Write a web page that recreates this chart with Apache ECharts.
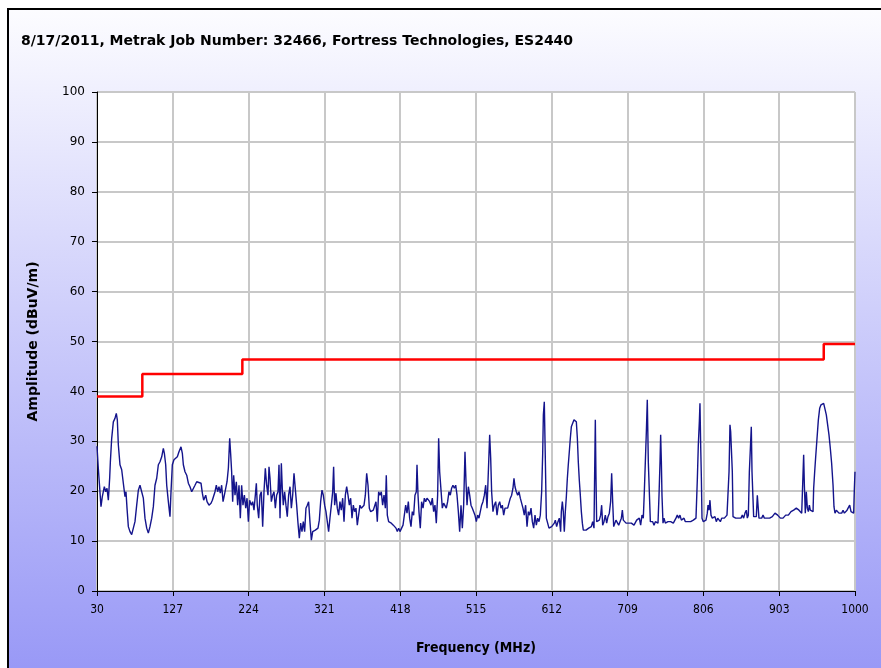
<!DOCTYPE html>
<html>
<head>
<meta charset="utf-8">
<script src="https://cdn.jsdelivr.net/npm/echarts@6/dist/echarts.min.js"></script>
<style>
  html, body { margin: 0; padding: 0; width: 881px; height: 668px; overflow: hidden; background: #fff; }
  .frame {
    position: absolute; left: 7px; top: 8px; width: 880px; height: 670px;
    border-left: 2px solid #000; border-top: 2px solid #000;
    background: linear-gradient(#fcfcff, #9797f6);
  }
  #chart { position: absolute; left: 0; top: 0; width: 881px; height: 668px; }
</style>
</head>
<body>
<div class="frame"></div>
<div id="chart"></div>
<script>
  var title = '8/17/2011, Metrak Job Number: 32466, Fortress Technologies, ES2440';
  var freqStart = 30;
  var freqEnd = 1000;
  var freqStep = 97;   // 30, 127, 224 ... 1000

  // limit line (MHz, dBuV/m)
  var limitLine = [
    [30, 39], [88, 39], [88, 43.5], [216, 43.5],
    [216, 46.4], [960, 46.4], [960, 49.5], [1000, 49.5]
  ];

  var emission = [
    [30, 29], [31.5, 25], [35.1, 16.9], [36.8, 18.9], [39.4, 20.9], [41.1, 19.9], [42.8, 20.6], [44.5, 18.2],
    [46.2, 22.6], [47.1, 25.9], [48.8, 30.6], [50.9, 33.9], [53.0, 34.6], [54.7, 35.6], [56.0, 34.3], [57.3, 29.3],
    [59.4, 25.3], [61.6, 24.3], [63.7, 21.6], [65.8, 18.9], [67.1, 19.9], [68.4, 16.6], [70.1, 12.9], [72.2, 11.9],
    [74.4, 11.3], [76.9, 11.3], [78.6, 13.9], [80.8, 17.2], [82.9, 20.2], [85.0, 21.2], [87.2, 21.2], [89.3, 18.6],
    [91.4, 14.6], [93.6, 12.6], [95.7, 11.6], [97.8, 12.9], [100.0, 14.6], [102.1, 16.9], [104.2, 21.2], [106.4, 22.6],
    [108.5, 25.3], [110.6, 25.9], [112.8, 26.9], [114.9, 28.6], [116.2, 27.6], [117.9, 25.3], [119.2, 21.2], [121.3, 17.9],
    [123.4, 14.9], [124.7, 19.9], [126.4, 25.3], [128.5, 26.3], [130.7, 26.6], [132.8, 26.9], [134.9, 27.9], [137.5, 28.9],
    [139.2, 27.6], [140.5, 25.3], [142.6, 23.9], [144.8, 23.2], [146.9, 21.6], [149.0, 20.9], [151.2, 19.9], [153.3, 20.2],
    [155.4, 21.2], [157.6, 21.9], [159.7, 21.8], [163.1, 21.6], [164.8, 19.6], [166.5, 18.2], [169.1, 19.2], [170.8, 17.9],
    [173.3, 17.2], [175.9, 17.6], [177.6, 18.2], [179.3, 18.6], [181.0, 19.9], [182.7, 21.2], [184.4, 19.9], [186.1, 20.9],
    [187.8, 19.6], [189.5, 21.2], [191.3, 17.9], [193.0, 19.2], [194.7, 18.9], [196.4, 21.9], [198.1, 24.6], [199.8, 30.6],
    [201.1, 27.3], [202.3, 23.9], [203.6, 17.9], [204.9, 23.2], [206.6, 19.2], [208.3, 21.9], [210.0, 17.2], [211.7, 21.2],
    [213.4, 14.6], [215.1, 21.2], [216.8, 17.2], [218.6, 19.2], [220.3, 16.6], [222.0, 18.6], [223.7, 13.9],
    [225.3, 18.2], [227.5, 17.2], [229.2, 17.9], [230.9, 16.2], [232.6, 19.2], [233.9, 21.6], [235.1, 17.2], [236.9, 14.6],
    [238.6, 19.2], [240.3, 19.9], [242.0, 12.9], [243.7, 19.9], [245.4, 24.6], [247.1, 21.2], [248.8, 19.2], [250.1, 24.9],
    [251.4, 22.6], [253.1, 17.9], [254.8, 19.2], [256.5, 19.9], [258.2, 16.6], [259.9, 19.2], [261.6, 19.9], [262.9, 25.3],
    [264.2, 14.6], [265.9, 25.6], [267.1, 20.6], [268.4, 17.2], [270.1, 19.9], [271.8, 17.2], [273.5, 14.9], [275.2, 19.2],
    [277.0, 20.9], [278.7, 16.6], [280.4, 19.2], [282.1, 23.6], [283.8, 23.2], [285.5, 17.2], [287.2, 13.6], [288.9, 10.6],
    [290.6, 13.6], [292.3, 11.9], [294.0, 13.9], [295.7, 11.9], [297.4, 16.6], [299.1, 17.2], [300.8, 17.9], [302.5, 13.9],
    [304.3, 10.2], [306.0, 11.9], [307.7, 11.9], [309.4, 12.2], [311.1, 11.9], [312.8, 12.6], [314.5, 14.2], [316.2, 17.9],
    [317.9, 20.2], [319.6, 19.2], [321.3, 17.2], [323.0, 15.9], [324.7, 13.9], [326.4, 11.9], [328.1, 14.6], [329.9, 17.2],
    [331.6, 19.9], [332.8, 24.9], [334.1, 17.2], [335.8, 19.6], [337.5, 16.6], [339.2, 15.2], [340.9, 17.9], [342.6, 16.2],
    [344.4, 18.6], [346.1, 13.9], [347.8, 19.2], [349.5, 20.9], [351.2, 19.2], [352.9, 17.2], [354.6, 18.6], [356.3, 14.6],
    [358.0, 17.2], [359.7, 15.9], [361.4, 16.6], [363.1, 13.2], [364.8, 15.2], [366.5, 17.2], [368.2, 16.6], [370.0, 16.9],
    [371.7, 17.2], [373.4, 19.2], [375.1, 23.6], [376.8, 21.2], [378.5, 16.6], [380.2, 15.9], [381.9, 16.2], [383.6, 16.2],
    [385.3, 15.9], [387.0, 17.9], [388.7, 13.9], [390.4, 19.9], [392.1, 19.2], [393.8, 19.9], [395.5, 17.2], [397.3, 19.2],
    [399.0, 16.6], [400.2, 23.2], [401.5, 15.2], [403.2, 13.9], [404.9, 13.6], [406.6, 13.6], [409.2, 13.2], [410.9, 13.2],
    [412.6, 12.6], [414.3, 11.9], [416.0, 12.6], [417.7, 11.9], [419.9, 11.9],
    [421.6, 13.2], [423.3, 15.2], [425.0, 17.2], [426.7, 15.6], [428.4, 17.9], [430.1, 14.6], [431.8, 12.9], [433.5, 15.9],
    [435.2, 15.2], [436.9, 19.2], [438.6, 19.9], [439.5, 25.3], [440.8, 19.2], [442.0, 15.9], [443.7, 12.6], [445.4, 17.9],
    [447.2, 16.6], [448.9, 18.6], [450.6, 17.9], [452.3, 18.6], [454.0, 18.2], [455.7, 17.9], [457.4, 17.2], [459.1, 18.6],
    [460.8, 15.9], [462.5, 17.2], [464.2, 13.6], [465.9, 19.2], [467.2, 30.6], [468.5, 23.9], [470.2, 23.6], [471.9, 16.6],
    [473.6, 17.6], [475.3, 17.2], [477.0, 16.6], [478.7, 17.9], [480.4, 19.9], [482.1, 19.2], [483.8, 20.6], [485.5, 21.2],
    [487.3, 20.6], [489.0, 21.2], [490.7, 19.2], [492.4, 15.9], [494.1, 11.9], [495.8, 17.2], [497.5, 12.6], [499.2, 17.2],
    [500.9, 27.9], [502.2, 21.9], [503.5, 17.2], [505.2, 20.9], [506.9, 19.2], [508.6, 17.2], [510.3, 16.6], [512.0, 15.9],
    [513.7, 15.2], [515.4, 13.9], [517.1, 15.2], [518.8, 14.6], [520.5, 15.9], [522.2, 17.2], [523.9, 17.9], [525.7, 19.2],
    [527.4, 21.2], [529.1, 16.6], [530.8, 23.9], [532.5, 31.3], [533.8, 26.6], [535.0, 19.9], [536.7, 15.9], [538.4, 17.2],
    [540.2, 17.9], [541.9, 15.2], [543.6, 17.2], [545.3, 17.9], [547.0, 16.6], [548.7, 17.2], [550.4, 15.2], [552.1, 16.6],
    [553.8, 16.2], [555.5, 16.6], [557.2, 16.9], [558.9, 18.6], [560.6, 19.2], [562.3, 20.6], [563.6, 22.6], [564.9, 20.9],
    [566.6, 19.9], [568.3, 19.2], [570.0, 19.9], [571.7, 18.6], [573.4, 17.6], [575.1, 16.6], [576.8, 15.2], [578.5, 17.2],
    [580.3, 12.9], [582.0, 15.9], [583.7, 15.2], [585.4, 16.6], [587.1, 13.9], [588.8, 12.6], [590.5, 15.2], [592.2, 13.2],
    [593.9, 14.6], [595.6, 13.9], [597.3, 15.2], [599.0, 19.9], [600.3, 27.3], [601.2, 35.3], [602.4, 37.9], [603.7, 26.6],
    [605.0, 14.6], [606.7, 13.6], [608.4, 12.6], [610.1, 12.2], [611.8, 12.9], [613.5, 12.6], [615.2, 13.6],
    [616.5, 14.2], [618.2, 12.9], [619.9, 13.9], [621.6, 14.6], [623.3, 11.9], [624.2, 15.9], [625.5, 17.9], [626.7, 15.9],
    [628.0, 11.9], [629.3, 15.9], [630.6, 18.9], [631.9, 22.6], [633.1, 25.3], [634.4, 27.9], [635.7, 30.6], [637.0, 32.9],
    [638.7, 33.6], [640.4, 34.3], [642.1, 34.7], [643.4, 33.9], [644.7, 30.6], [645.9, 25.9], [647.2, 22.2], [648.5, 19.2],
    [649.8, 15.9], [651.1, 13.6], [652.3, 12.2], [654.0, 11.9], [655.8, 12.2], [657.5, 11.9], [659.2, 12.6], [660.9, 12.2],
    [662.6, 12.9], [664.3, 13.9], [666.0, 12.6], [666.8, 23.2], [667.7, 34.3], [668.5, 23.2], [669.4, 13.9], [671.1, 13.6],
    [672.8, 14.2], [674.5, 15.2], [675.8, 17.2], [677.1, 13.2], [678.8, 13.9], [680.5, 15.2], [682.2, 13.6], [683.9, 14.9],
    [685.6, 15.6], [687.3, 17.9], [688.6, 23.6], [689.9, 17.9], [691.2, 12.9], [692.4, 13.2], [694.1, 14.2], [695.9, 14.6],
    [697.6, 13.2], [699.3, 13.6], [701.0, 14.6], [702.3, 16.2], [703.5, 14.2], [705.2, 13.9], [707.0, 13.6], [708.7, 13.2],
    [710.4, 13.6], [712.1, 13.9], [713.8, 13.6], [715.5, 13.2], [717.2, 13.2], [718.9, 13.6], [720.6, 14.2], [722.3, 13.9],
    [724.0, 14.6], [725.7, 13.2], [727.4, 15.2], [729.1, 14.6], [730.4, 19.9], [731.7, 25.9], [733.0, 31.9], [734.2, 38.3],
    [735.5, 25.9], [736.8, 19.9], [738.1, 13.9], [739.4, 13.6], [741.1, 13.9], [742.8, 13.2], [744.5, 13.9], [746.2, 13.6],
    [747.9, 13.6], [749.2, 19.2], [750.5, 25.9], [751.3, 31.3], [752.2, 25.9], [753.0, 19.2], [754.3, 13.6], [755.6, 14.6],
    [757.3, 13.6], [759.0, 13.9], [760.7, 13.9], [762.4, 13.6], [764.1, 13.9], [765.8, 14.2], [767.5, 13.6], [769.2, 13.9],
    [770.9, 14.6], [772.6, 15.2], [774.3, 14.6], [776.0, 15.2], [777.8, 14.2], [779.5, 13.9], [781.2, 14.6], [782.9, 13.9],
    [784.6, 14.2], [786.3, 13.9], [788.0, 14.2], [789.7, 13.9], [791.4, 13.6], [793.1, 14.2], [794.8, 14.6], [796.5, 14.6],
    [798.2, 22.2], [799.5, 29.3], [800.8, 33.9], [801.6, 37.6], [802.5, 29.3], [803.4, 22.6], [804.2, 14.6], [805.9, 13.9],
    [807.6, 14.2], [809.3, 14.2], [811.0, 15.6],
    [811.9, 17.2], [813.2, 16.2], [814.4, 18.2], [815.7, 15.2], [817.4, 14.6], [819.1, 14.2], [820.8, 14.9], [822.5, 13.9],
    [824.3, 14.6], [826.0, 14.2], [827.7, 13.9], [829.4, 14.6], [831.1, 14.2], [832.8, 14.6], [834.5, 14.9], [836.2, 15.2],
    [837.5, 15.2], [838.8, 23.9], [840.0, 33.3], [840.9, 31.9], [842.2, 31.9], [843.0, 23.9], [843.9, 14.9], [845.6, 14.6],
    [847.3, 14.6], [849.0, 14.9], [850.7, 14.6], [852.4, 14.2], [854.1, 14.6], [855.8, 15.2], [857.5, 14.6], [859.2, 15.6],
    [860.9, 16.2], [862.2, 14.6], [863.5, 15.2], [864.8, 23.9], [866.1, 23.9], [867.3, 32.9], [868.2, 23.9], [869.5, 23.9],
    [870.3, 14.9], [872.0, 14.6], [873.7, 14.9], [875.0, 19.2], [876.3, 19.2], [877.1, 14.6], [878.9, 14.9], [880.6, 14.6],
    [882.3, 15.2], [884.0, 14.6], [885.7, 14.9], [887.4, 14.6], [889.1, 14.2], [890.8, 14.6], [892.5, 14.2], [894.2, 14.9],
    [895.9, 14.6], [897.6, 15.6], [899.3, 15.2], [901.0, 15.2], [902.7, 14.9], [904.5, 14.6], [906.2, 14.9], [907.9, 14.6],
    [909.6, 14.9], [911.3, 15.2], [913.0, 15.6], [914.7, 15.2], [916.4, 15.6], [918.1, 15.9], [919.8, 15.9], [921.5, 16.2],
    [923.2, 16.2], [924.9, 16.6], [926.6, 16.2], [928.3, 16.2], [930.0, 16.6], [931.8, 15.6], [933.0, 21.2], [934.3, 27.3],
    [935.2, 21.2], [936.4, 15.6], [937.7, 19.9], [939.0, 16.6], [940.3, 15.9], [941.6, 17.2], [942.8, 16.2], [944.5, 16.6],
    [946.3, 15.9], [947.1, 20.6], [948.4, 23.9], [949.7, 26.9], [951.4, 30.6], [953.1, 34.3], [954.8, 36.6], [956.5, 37.3],
    [958.2, 37.4], [959.9, 37.6], [961.6, 37.3], [963.3, 35.3], [965.0, 33.3], [966.7, 31.3], [968.4, 28.6], [970.1, 25.6],
    [971.9, 21.2], [973.1, 16.9], [974.4, 15.6], [976.1, 16.2], [977.8, 15.9], [979.5, 15.6], [981.2, 15.2], [983.0, 15.6],
    [984.7, 16.2], [986.4, 15.6], [988.1, 15.9], [989.8, 16.2], [991.5, 16.6], [993.2, 17.2], [994.9, 15.9], [996.6, 16.2],
    [998.3, 15.6], [999.2, 20.6], [1000, 23.9]
  ];

  // x axis runs from 0 so that the ticks land on 30, 127, 224 ...
  function shift(p) { return [p[0] - freqStart, p[1]]; }

  var narrow = "'DejaVu Sans Condensed', 'Liberation Sans', sans-serif";

  var chart = echarts.init(document.getElementById('chart'));
  chart.setOption({
    animation: false,
    backgroundColor: 'transparent',
    title: {
      text: title,
      left: 16,
      top: 29,
      textStyle: { fontFamily: 'DejaVu Sans', fontSize: 14, fontWeight: 'bold', color: '#000' }
    },
    grid: {
      left: 97, right: 26, top: 92, bottom: 77,
      show: true, backgroundColor: '#fff', borderWidth: 0
    },
    xAxis: {
      type: 'value',
      min: 0,
      max: freqEnd - freqStart,
      interval: freqStep,
      name: 'Frequency (MHz)',
      nameLocation: 'middle',
      nameGap: 50,
      nameTextStyle: { fontFamily: narrow, fontSize: 14, fontWeight: 'bold', color: '#000' },
      axisLine: { lineStyle: { color: '#000', width: 1 } },
      axisTick: { length: 5, lineStyle: { color: '#000' } },
      axisLabel: {
        margin: 13,
        fontFamily: narrow,
        fontSize: 12,
        color: '#000',
        formatter: function (v) { return String(v + freqStart); }
      },
      splitLine: { show: true, lineStyle: { color: '#c8c8c8', width: 2 } }
    },
    yAxis: {
      type: 'value',
      min: 0,
      max: 100,
      interval: 10,
      name: 'Amplitude (dBuV/m)',
      nameLocation: 'middle',
      nameGap: 57,
      nameTextStyle: { fontFamily: 'DejaVu Sans', fontSize: 14, fontWeight: 'bold', color: '#000' },
      axisLine: { show: true, lineStyle: { color: '#000', width: 1 } },
      axisTick: { show: true, length: 5, lineStyle: { color: '#000' } },
      axisLabel: { margin: 12, fontFamily: 'DejaVu Sans', fontSize: 12, color: '#000' },
      splitLine: { show: true, lineStyle: { color: '#c8c8c8', width: 2 } }
    },
    series: [
      {
        name: 'Limit',
        type: 'line',
        data: limitLine.map(shift),
        symbol: 'none',
        lineStyle: { color: '#ff0000', width: 2.5 },
        z: 3
      },
      {
        name: 'Emission',
        type: 'line',
        data: emission.map(shift),
        symbol: 'none',
        lineStyle: { color: '#14148c', width: 1.4 },
        z: 4
      }
    ]
  });
</script>
</body>
</html>
